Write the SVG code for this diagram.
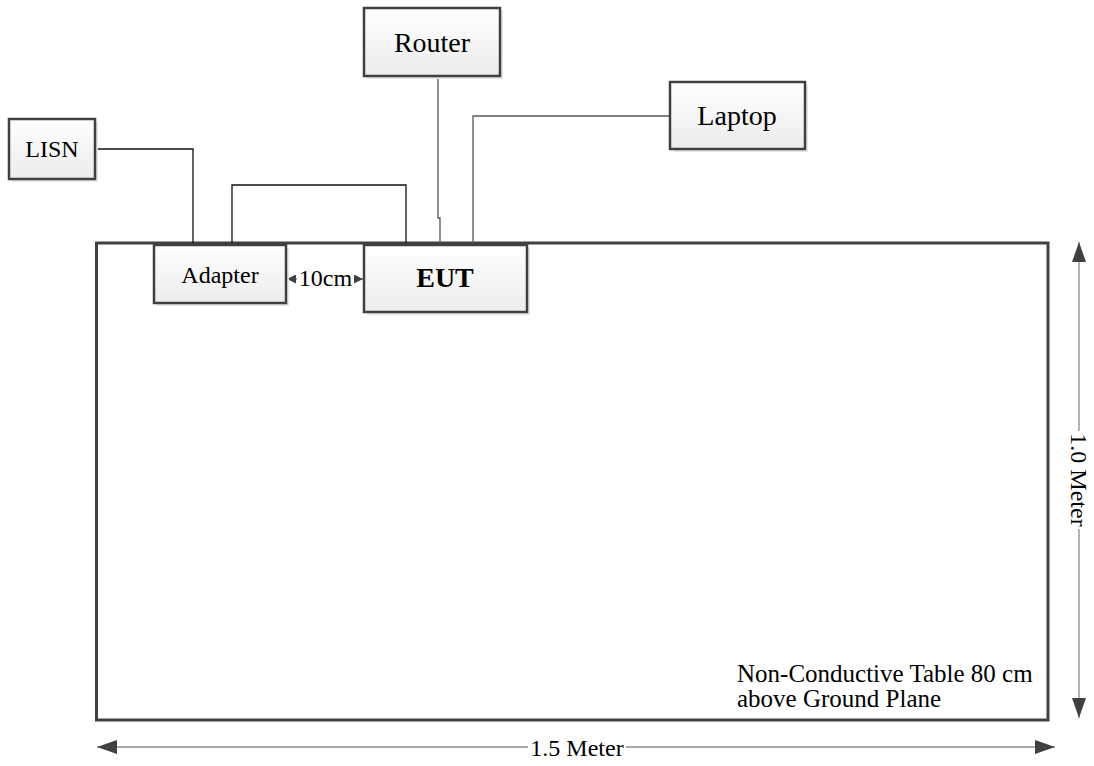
<svg xmlns="http://www.w3.org/2000/svg" width="1094" height="766" viewBox="0 0 1094 766">
<defs>
<linearGradient id="boxfill" x1="0" y1="0" x2="0" y2="1">
<stop offset="0" stop-color="#ffffff"/>
<stop offset="1" stop-color="#ececec"/>
</linearGradient>
<marker id="bigArrow" viewBox="0 0 20 14" refX="20" refY="7" markerWidth="20" markerHeight="14" markerUnits="userSpaceOnUse" orient="auto-start-reverse">
<path d="M0,0 L20,7 L0,14 Z" fill="#404040"/>
</marker>
<marker id="smallArrow" viewBox="0 0 9 9" refX="9" refY="4.5" markerWidth="9" markerHeight="9" markerUnits="userSpaceOnUse" orient="auto-start-reverse">
<path d="M0,0 L9,4.5 L0,9 Z" fill="#404040"/>
</marker>
</defs>
<style>
.shadow{fill:#e6e6e6;}
.box{fill:url(#boxfill);stroke:#404040;stroke-width:2.5;}
.txt{font-family:"Liberation Serif","Times New Roman",serif;fill:#000;text-anchor:middle;}
.wire{fill:none;stroke:#111;stroke-width:1.3;}
.wire2{fill:none;stroke:#555;stroke-width:1.3;}
.dim{fill:none;stroke:#8a8a8a;stroke-width:1.3;}
</style>
<rect width="1094" height="766" fill="#ffffff"/>

<g id="table">
<rect x="96.5" y="243" width="951.5" height="477" fill="none" stroke="#404040" stroke-width="3"/>
<text x="737" y="682" font-family="'Liberation Serif','Times New Roman',serif" font-size="25">Non-Conductive Table 80 cm</text>
<text x="737" y="707" font-family="'Liberation Serif','Times New Roman',serif" font-size="25">above Ground Plane</text>
</g>

<g id="connectors">
<polyline class="wire" points="95,149 193,149 193,243"/>
<polyline class="wire" points="232,243 232,185 406,185 406,243"/>
<polyline class="wire2" points="438,76 438,218 440,218 440,243"/>
<polyline class="wire2" points="473,243 473,116 670,116"/>
<line class="dim" x1="287" y1="279" x2="363" y2="279" marker-start="url(#smallArrow)" marker-end="url(#smallArrow)"/>
<line class="dim" x1="1079" y1="242" x2="1079" y2="718" marker-start="url(#bigArrow)" marker-end="url(#bigArrow)"/>
<line class="dim" x1="97" y1="747" x2="1055" y2="747" marker-start="url(#bigArrow)" marker-end="url(#bigArrow)"/>
</g>

<g id="label-10cm">
<rect x="297" y="266" width="57" height="24" fill="#ffffff"/>
<text class="txt" x="325.5" y="286" font-size="24">10cm</text>
</g>

<g id="label-height">
<rect x="1068" y="431" width="22" height="98" fill="#ffffff"/>
<text class="txt" x="0" y="0" font-size="24" transform="translate(1071,480) rotate(90)">1.0 Meter</text>
</g>

<g id="label-width">
<rect x="528" y="736" width="98" height="22" fill="#ffffff"/>
<text class="txt" x="577" y="756" font-size="24">1.5 Meter</text>
</g>

<g id="lisn">
<rect class="shadow" x="12" y="122" width="86" height="60"/>
<rect class="box" x="9" y="119" width="86" height="60"/>
<text class="txt" x="52" y="157" font-size="24">LISN</text>
</g>

<g id="adapter">
<rect class="shadow" x="157" y="248" width="132" height="58"/>
<rect class="box" x="154" y="245" width="132" height="58"/>
<text class="txt" x="220" y="283" font-size="24">Adapter</text>
</g>

<g id="eut">
<rect class="shadow" x="367" y="248" width="163" height="67"/>
<rect class="box" x="364" y="245" width="163" height="67"/>
<text class="txt" x="445" y="287" font-size="28" font-weight="bold">EUT</text>
</g>

<g id="router">
<rect class="shadow" x="367" y="11" width="136" height="68"/>
<rect class="box" x="364" y="8" width="136" height="68"/>
<text class="txt" x="432" y="52" font-size="28">Router</text>
</g>

<g id="laptop">
<rect class="shadow" x="673" y="85" width="135" height="67"/>
<rect class="box" x="670" y="82" width="135" height="67"/>
<text class="txt" x="737" y="125" font-size="28">Laptop</text>
</g>
</svg>
